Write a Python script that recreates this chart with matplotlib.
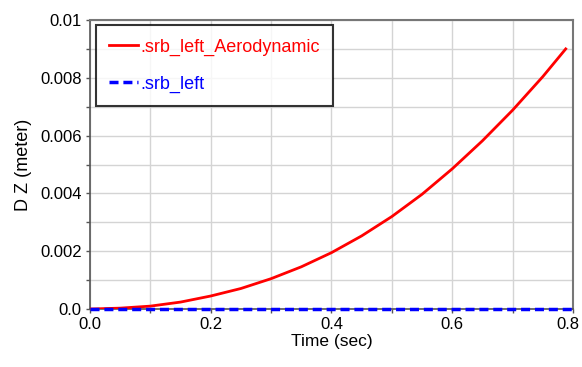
import matplotlib
matplotlib.use("Agg")
import matplotlib.pyplot as plt
from matplotlib.ticker import MultipleLocator, FixedFormatter, FixedLocator
from matplotlib.transforms import ScaledTranslation

plt.rcParams['font.family'] = ['Liberation Sans', 'DejaVu Sans']

time_s = [0.0, 0.05, 0.1, 0.15, 0.2, 0.25, 0.3, 0.35, 0.4, 0.45, 0.5, 0.55, 0.6, 0.65, 0.7, 0.75, 0.788]
dz_aero = [0.0, 0.00003, 0.0001, 0.00024, 0.00045, 0.00071, 0.00105, 0.00146, 0.00195, 0.00253,
           0.0032, 0.00397, 0.00485, 0.00582, 0.00688, 0.00804, 0.0090]
time_left = [0.0, 0.8]
dz_left = [0.0, 0.0]

xticks = [0.0, 0.2, 0.4, 0.6, 0.8]
xtick_labels = ['0.0', '0.2', '0.4', '0.6', '0.8']
yticks = [0.0, 0.002, 0.004, 0.006, 0.008, 0.01]
ytick_labels = ['0.0', '0.002', '0.004', '0.006', '0.008', '0.01']

fig = plt.figure(figsize=(5.82, 3.67), dpi=100)
ax = fig.add_axes([0.1546, 0.158, 0.8299, 0.7875])

ax.plot(time_s, dz_aero, color='#ff0000', lw=2.0, label='.srb_left_Aerodynamic', zorder=3)
ax.plot(time_left, dz_left, color='#0000ff', lw=2.5, ls=(0, (2.6, 1.4)), label='.srb_left',
        zorder=5, clip_on=False)

ax.set_xlim(0, 0.8)
ax.set_ylim(0, 0.01)
ax.xaxis.set_major_locator(FixedLocator(xticks))
ax.xaxis.set_major_formatter(FixedFormatter(xtick_labels))
ax.yaxis.set_major_locator(FixedLocator(yticks))
ax.yaxis.set_major_formatter(FixedFormatter(ytick_labels))
ax.xaxis.set_minor_locator(MultipleLocator(0.1))
ax.yaxis.set_minor_locator(MultipleLocator(0.001))
ax.grid(True, which='both', color='#d4d4d4', lw=1.0)
ax.set_axisbelow(True)
ax.tick_params(which='both', length=3, width=1, color='#555555', labelsize=12, pad=3)

for s in ['left', 'bottom']:
    ax.spines[s].set_color('#555555')
    ax.spines[s].set_linewidth(1.2)
for s in ['top', 'right']:
    ax.spines[s].set_color('#777777')
    ax.spines[s].set_linewidth(1.5)

ax.set_xlabel('Time (sec)', fontsize=12.5, labelpad=1)
ax.set_ylabel('D Z (meter)', fontsize=13, labelpad=6)

leg = ax.legend(loc='upper left', bbox_to_anchor=(0.012, 0.983), fontsize=13, frameon=True,
                fancybox=False, edgecolor='black', handlelength=1.6, handletextpad=0.1,
                borderpad=0.75, labelspacing=1.1, borderaxespad=0)
leg.get_frame().set_linewidth(1.5)
for t, c in zip(leg.get_texts(), ['#ff0000', '#0000ff']):
    t.set_color(c)

fig.canvas.draw()
last = ax.xaxis.get_major_ticks()[-1].label1
last.set_transform(last.get_transform() + ScaledTranslation(-4 / 72, 0, fig.dpi_scale_trans))

fig.savefig('out.png', dpi=100)
